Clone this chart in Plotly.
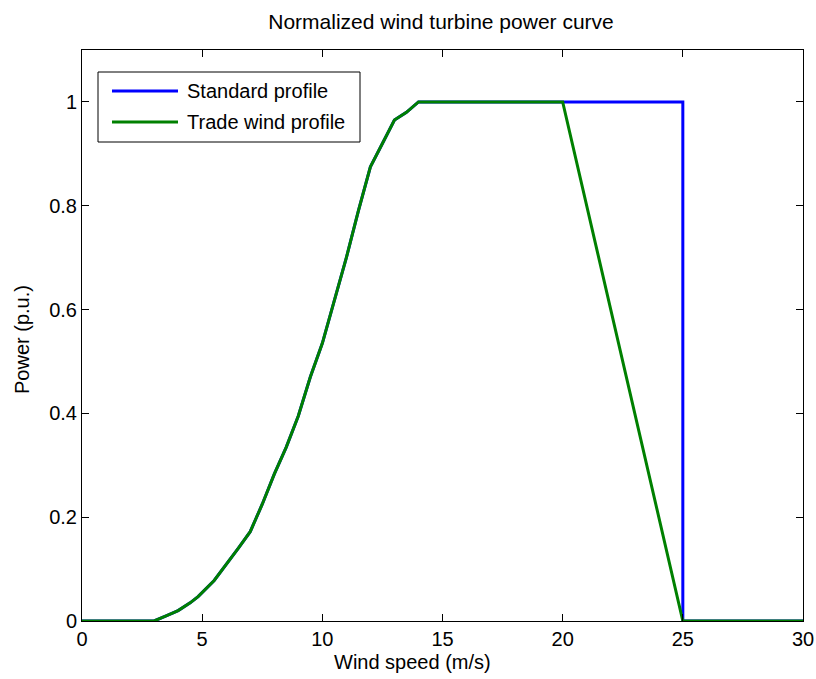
import plotly.graph_objects as go

# Wind speeds (m/s) and normalized power for the ramp-up region (shared)
ramp_speed = [0, 3, 3.5, 4, 4.5, 4.83, 5.5, 6, 6.5, 7, 7.5, 8, 8.5, 9, 9.5, 10, 10.5, 11, 11.5, 12, 12.5, 13, 13.5, 14]
ramp_power = [0, 0, 0.01, 0.02, 0.035, 0.047, 0.078, 0.108, 0.14, 0.172, 0.225, 0.283, 0.335, 0.395, 0.47, 0.535, 0.615, 0.70, 0.79, 0.875, 0.92, 0.965, 0.98, 1.0]

# Standard profile: rated until cut-out at 25 m/s
std_speed = ramp_speed + [25, 25, 30]
std_power = ramp_power + [1.0, 0.0, 0.0]

# Trade wind profile: rated until 20 m/s, linear decline to 0 at 25 m/s
trade_speed = ramp_speed + [20, 25, 30]
trade_power = ramp_power + [1.0, 0.0, 0.0]

series_names = ["Standard profile", "Trade wind profile"]
series_colors = ["#0000FF", "#008000"]

x_ticks = [0, 5, 10, 15, 20, 25, 30]
y_ticks = [0, 0.2, 0.4, 0.6, 0.8, 1]
y_tick_labels = ["0", "0.2", "0.4", "0.6", "0.8", "1"]

font_family = "Liberation Sans, Arial, sans-serif"
W, H = 816, 679
L, R, T, B = 82, 13, 50, 58
pw, ph = W - L - R, H - T - B


def px_x(px):
    return (px - L) / pw


def px_y(py):
    return (H - B - py) / ph


fig = go.Figure()
for sx, sy, name, color in [(std_speed, std_power, series_names[0], series_colors[0]),
                            (trade_speed, trade_power, series_names[1], series_colors[1])]:
    fig.add_trace(go.Scatter(x=sx, y=sy, mode="lines", name=name, showlegend=False,
                             line=dict(color=color, width=3)))

axis_common = dict(showline=True, linecolor="black", linewidth=1, mirror="ticks",
                   ticks="inside", ticklen=7, tickcolor="black", showgrid=False,
                   zeroline=False, automargin=False,
                   tickfont=dict(size=20, color="black", family=font_family))

# Legend drawn as a boxed key in the upper-left corner
shapes = [dict(type="rect", xref="paper", yref="paper",
               x0=px_x(98), x1=px_x(360), y0=px_y(142), y1=px_y(72),
               line=dict(color="black", width=1), fillcolor="white", layer="above")]
annotations = []
for i, (name, color) in enumerate(zip(series_names, series_colors)):
    yy = px_y(91 + i * 31)
    shapes.append(dict(type="line", xref="paper", yref="paper",
                       x0=px_x(112), x1=px_x(178), y0=yy, y1=yy,
                       line=dict(color=color, width=3), layer="above"))
    annotations.append(dict(text=name, xref="paper", yref="paper", x=px_x(185), y=yy,
                            xanchor="left", yanchor="middle", showarrow=False,
                            font=dict(size=20, color="black", family=font_family)))

annotations.append(dict(text="Wind speed (m/s)", xref="paper", yref="paper",
                        x=px_x(412), y=px_y(662), xanchor="center", yanchor="middle",
                        showarrow=False, font=dict(size=20, color="black", family=font_family)))
annotations.append(dict(text="Power (p.u.)", xref="paper", yref="paper",
                        x=px_x(22), y=px_y(340), xanchor="center", yanchor="middle",
                        textangle=-90, showarrow=False,
                        font=dict(size=20, color="black", family=font_family)))

fig.update_layout(
    width=W, height=H,
    margin=dict(l=L, r=R, t=T, b=B),
    paper_bgcolor="white", plot_bgcolor="white",
    font=dict(family=font_family, color="black"),
    title=dict(text="Normalized wind turbine power curve", x=px_x(441), xref="paper",
               xanchor="center", y=1 - 22 / H, yanchor="middle",
               font=dict(size=21, color="black")),
    xaxis=dict(range=[0, 30], tickvals=x_ticks, **axis_common),
    yaxis=dict(range=[0, 1.1], tickvals=y_ticks, ticktext=y_tick_labels, **axis_common),
    shapes=shapes,
    annotations=annotations,
    showlegend=False,
)

fig.write_html("out.html")
